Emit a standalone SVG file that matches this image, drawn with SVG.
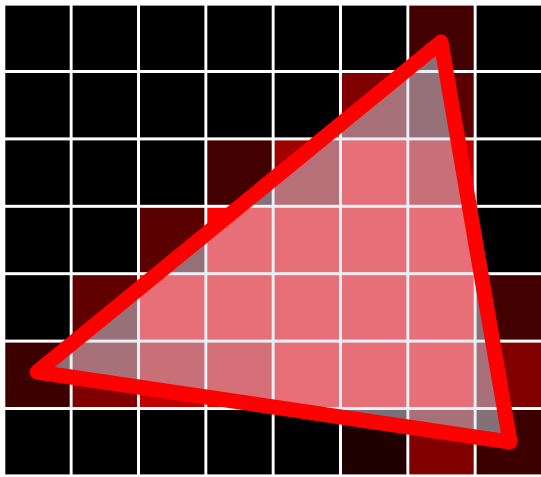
<svg xmlns="http://www.w3.org/2000/svg" width="541" height="477" viewBox="0 0 541 477">
<style>
rect{width:64.4px;height:64.4px}
.k{fill:#000}
.a{fill:#200000}
.b{fill:#3c0000}
.c{fill:#420000}
.d{fill:#5a0000}
.e{fill:#600000}
.f{fill:#800000}
.g{fill:#a00000}
.h{fill:#c00000}
.i{fill:#dc0000}
.j{fill:#f20000}
.z{fill:#ff0000}
.tri{fill:rgb(208,224,240);fill-opacity:0.5;stroke:#ff0000;stroke-width:15;stroke-linejoin:round}
</style>
<rect x="0" y="0" width="541" height="477" style="width:541px;height:477px" fill="#fff"/>
<g id="grid">
<!-- row 0 -->
<rect class="k" x="5.3" y="5.6" width="64.4" height="64.4"/>
<rect class="k" x="72.6" y="5.6" width="64.4" height="64.4"/>
<rect class="k" x="140" y="5.6" width="64.4" height="64.4"/>
<rect class="k" x="207.3" y="5.6" width="64.4" height="64.4"/>
<rect class="k" x="274.6" y="5.6" width="64.4" height="64.4"/>
<rect class="k" x="342" y="5.6" width="64.4" height="64.4"/>
<rect class="c" x="409.3" y="5.6" width="64.4" height="64.4"/>
<rect class="k" x="476.6" y="5.6" width="64.4" height="64.4"/>
<!-- row 1 -->
<rect class="k" x="5.3" y="73" width="64.4" height="64.4"/>
<rect class="k" x="72.6" y="73" width="64.4" height="64.4"/>
<rect class="k" x="140" y="73" width="64.4" height="64.4"/>
<rect class="k" x="207.3" y="73" width="64.4" height="64.4"/>
<rect class="k" x="274.6" y="73" width="64.4" height="64.4"/>
<rect class="f" x="342" y="73" width="64.4" height="64.4"/>
<rect class="d" x="409.3" y="73" width="64.4" height="64.4"/>
<rect class="k" x="476.6" y="73" width="64.4" height="64.4"/>
<!-- row 2 -->
<rect class="k" x="5.3" y="140.4" width="64.4" height="64.4"/>
<rect class="k" x="72.6" y="140.4" width="64.4" height="64.4"/>
<rect class="k" x="140" y="140.4" width="64.4" height="64.4"/>
<rect class="c" x="207.3" y="140.4" width="64.4" height="64.4"/>
<rect class="g" x="274.6" y="140.4" width="64.4" height="64.4"/>
<rect class="z" x="342" y="140.4" width="64.4" height="64.4"/>
<rect class="h" x="409.3" y="140.4" width="64.4" height="64.4"/>
<rect class="k" x="476.6" y="140.4" width="64.4" height="64.4"/>
<!-- row 3 -->
<rect class="k" x="5.3" y="207.8" width="64.4" height="64.4"/>
<rect class="k" x="72.6" y="207.8" width="64.4" height="64.4"/>
<rect class="d" x="140" y="207.8" width="64.4" height="64.4"/>
<rect class="z" x="207.3" y="207.8" width="64.4" height="64.4"/>
<rect class="z" x="274.6" y="207.8" width="64.4" height="64.4"/>
<rect class="z" x="342" y="207.8" width="64.4" height="64.4"/>
<rect class="z" x="409.3" y="207.8" width="64.4" height="64.4"/>
<rect class="k" x="476.6" y="207.8" width="64.4" height="64.4"/>
<!-- row 4 -->
<rect class="k" x="5.3" y="275.2" width="64.4" height="64.4"/>
<rect class="e" x="72.6" y="275.2" width="64.4" height="64.4"/>
<rect class="z" x="140" y="275.2" width="64.4" height="64.4"/>
<rect class="z" x="207.3" y="275.2" width="64.4" height="64.4"/>
<rect class="z" x="274.6" y="275.2" width="64.4" height="64.4"/>
<rect class="z" x="342" y="275.2" width="64.4" height="64.4"/>
<rect class="z" x="409.3" y="275.2" width="64.4" height="64.4"/>
<rect class="c" x="476.6" y="275.2" width="64.4" height="64.4"/>
<!-- row 5 -->
<rect class="b" x="5.3" y="342.6" width="64.4" height="64.4"/>
<rect class="f" x="72.6" y="342.6" width="64.4" height="64.4"/>
<rect class="h" x="140" y="342.6" width="64.4" height="64.4"/>
<rect class="i" x="207.3" y="342.6" width="64.4" height="64.4"/>
<rect class="z" x="274.6" y="342.6" width="64.4" height="64.4"/>
<rect class="z" x="342" y="342.6" width="64.4" height="64.4"/>
<rect class="z" x="409.3" y="342.6" width="64.4" height="64.4"/>
<rect class="f" x="476.6" y="342.6" width="64.4" height="64.4"/>
<!-- row 6 -->
<rect class="k" x="5.3" y="410" width="64.4" height="64.4"/>
<rect class="k" x="72.6" y="410" width="64.4" height="64.4"/>
<rect class="k" x="140" y="410" width="64.4" height="64.4"/>
<rect class="k" x="207.3" y="410" width="64.4" height="64.4"/>
<rect class="k" x="274.6" y="410" width="64.4" height="64.4"/>
<rect class="a" x="342" y="410" width="64.4" height="64.4"/>
<rect class="f" x="409.3" y="410" width="64.4" height="64.4"/>
<rect class="b" x="476.6" y="410" width="64.4" height="64.4"/>
</g>
<polygon id="triangle" class="tri" points="441,42 37,372 510,442"/>
</svg>
